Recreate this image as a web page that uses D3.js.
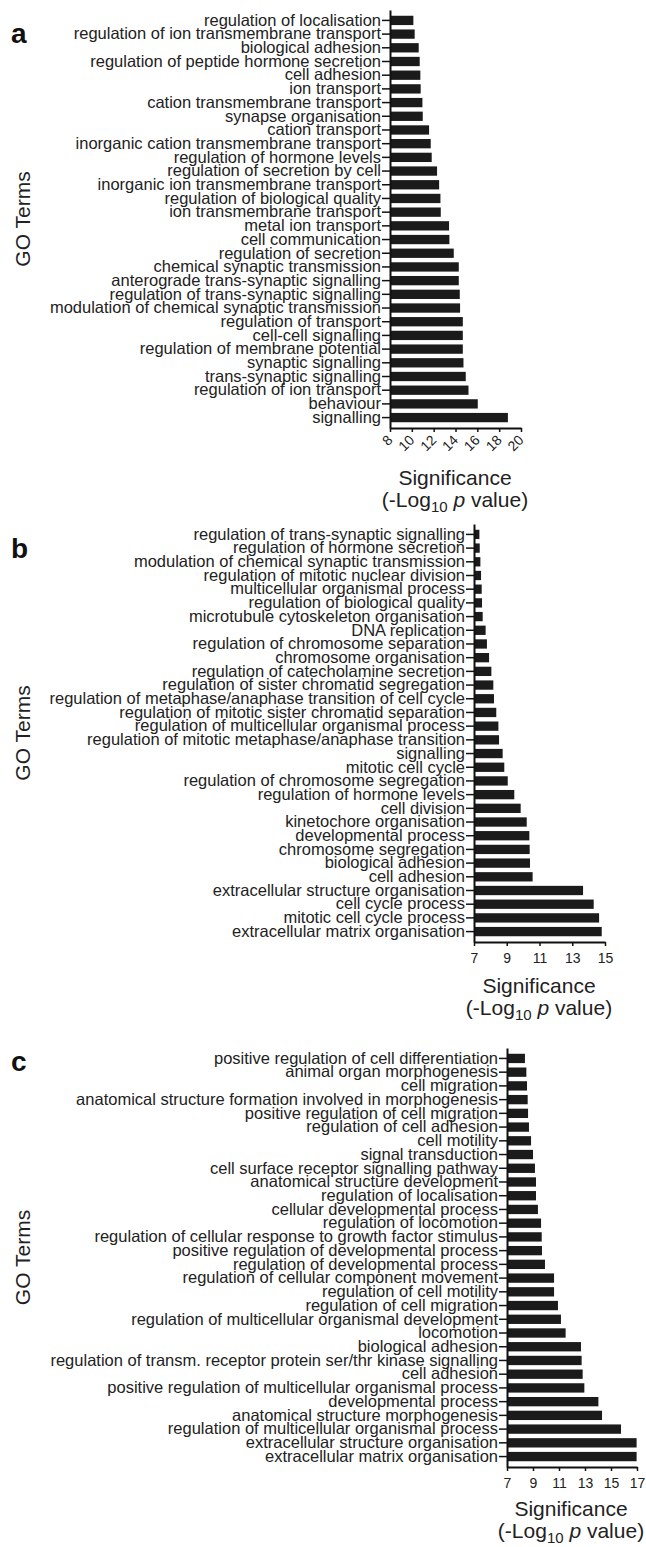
<!DOCTYPE html>
<html>
<head>
<meta charset="utf-8">
<script src="https://cdnjs.cloudflare.com/ajax/libs/d3/7.8.5/d3.min.js"></script>
<style>
  body { margin: 0; background: #fff; }
  svg { display: block; font-family: 'Liberation Sans', Arial, sans-serif; }
</style>
</head>
<body>
<svg width="646" height="1547"></svg>
<script>
// GO terms, top to bottom, with -log10 p values
const termsA = [
  'regulation of localisation', 'regulation of ion transmembrane transport', 'biological adhesion',
  'regulation of peptide hormone secretion', 'cell adhesion', 'ion transport',
  'cation transmembrane transport', 'synapse organisation', 'cation transport',
  'inorganic cation transmembrane transport', 'regulation of hormone levels', 'regulation of secretion by cell',
  'inorganic ion transmembrane transport', 'regulation of biological quality', 'ion transmembrane transport',
  'metal ion transport', 'cell communication', 'regulation of secretion',
  'chemical synaptic transmission', 'anterograde trans-synaptic signalling', 'regulation of trans-synaptic signalling',
  'modulation of chemical synaptic transmission', 'regulation of transport', 'cell-cell signalling',
  'regulation of membrane potential', 'synaptic signalling', 'trans-synaptic signalling',
  'regulation of ion transport', 'behaviour', 'signalling'
]
const valuesA = [
  10.14, 10.26, 10.63, 10.72, 10.78, 10.81, 10.97, 11.0, 11.58, 11.73,
  11.82, 12.31, 12.5, 12.62, 12.65, 13.41, 13.44, 13.84, 14.3, 14.3,
  14.39, 14.42, 14.67, 14.67, 14.67, 14.73, 14.94, 15.19, 16.04, 18.8
]
const ticksA = [8, 10, 12, 14, 16, 18, 20]

const termsB = [
  'regulation of trans-synaptic signalling', 'regulation of hormone secretion', 'modulation of chemical synaptic transmission',
  'regulation of mitotic nuclear division', 'multicellular organismal process', 'regulation of biological quality',
  'microtubule cytoskeleton organisation', 'DNA replication', 'regulation of chromosome separation',
  'chromosome organisation', 'regulation of catecholamine secretion', 'regulation of sister chromatid segregation',
  'regulation of metaphase/anaphase transition of cell cycle', 'regulation of mitotic sister chromatid separation', 'regulation of multicellular organismal process',
  'regulation of mitotic metaphase/anaphase transition', 'signalling', 'mitotic cell cycle',
  'regulation of chromosome segregation', 'regulation of hormone levels', 'cell division',
  'kinetochore organisation', 'developmental process', 'chromosome segregation',
  'biological adhesion', 'cell adhesion', 'extracellular structure organisation',
  'cell cycle process', 'mitotic cell cycle process', 'extracellular matrix organisation'
]
const valuesB = [
  7.33, 7.35, 7.39, 7.43, 7.47, 7.49, 7.53, 7.71, 7.79, 7.92,
  8.06, 8.18, 8.22, 8.36, 8.49, 8.53, 8.75, 8.85, 9.06, 9.46,
  9.85, 10.22, 10.38, 10.4, 10.42, 10.58, 13.66, 14.31, 14.64, 14.8
]
const ticksB = [7, 9, 11, 13, 15]

const termsC = [
  'positive regulation of cell differentiation', 'animal organ morphogenesis', 'cell migration',
  'anatomical structure formation involved in morphogenesis', 'positive regulation of cell migration', 'regulation of cell adhesion',
  'cell motility', 'signal transduction', 'cell surface receptor signalling pathway',
  'anatomical structure development', 'regulation of localisation', 'cellular developmental process',
  'regulation of locomotion', 'regulation of cellular response to growth factor stimulus', 'positive regulation of developmental process',
  'regulation of developmental process', 'regulation of cellular component movement', 'regulation of cell motility',
  'regulation of cell migration', 'regulation of multicellular organismal development', 'locomotion',
  'biological adhesion', 'regulation of transm. receptor protein ser/thr kinase signalling', 'cell adhesion',
  'positive regulation of multicellular organismal process', 'developmental process', 'anatomical structure morphogenesis',
  'regulation of multicellular organismal process', 'extracellular structure organisation', 'extracellular matrix organisation'
]
const valuesC = [
  8.38, 8.49, 8.54, 8.59, 8.62, 8.69, 8.85, 9.0, 9.15, 9.23,
  9.23, 9.38, 9.62, 9.67, 9.69, 9.92, 10.62, 10.62, 10.92, 11.15,
  11.51, 12.69, 12.74, 12.82, 12.95, 14.03, 14.31, 15.77, 16.97, 16.97
]
const ticksC = [7, 9, 11, 13, 15, 17]

// layout of the three stacked panels
const panels = [
  { letter: 'a', terms: termsA, values: valuesA, ticks: ticksA, rotate: true,
    x: [390, 521], y: [10, 428], letterY: 43, titleX: 455, titleY: 485 },
  { letter: 'b', terms: termsB, values: valuesB, ticks: ticksB, rotate: false,
    x: [474, 605], y: [524, 942], letterY: 558, titleX: 539, titleY: 993 },
  { letter: 'c', terms: termsC, values: valuesC, ticks: ticksC, rotate: false,
    x: [507, 637], y: [1048, 1467], letterY: 1071, titleX: 571, titleY: 1516 }
]

const svg = d3.select('svg')
panels.forEach(drawPanel)

function drawPanel (p) {
  const rows = p.terms.map((t, i) => ({ term: t, value: p.values[i] }))
  const ticks = p.ticks

  const xScale = d3.scaleLinear()
    .domain([ticks[0], ticks[ticks.length - 1]])
    .range(p.x)

  const yScale = d3.scaleBand()
    .domain(p.terms)
    .range(p.y)
    .paddingInner(0.32)
    .paddingOuter(0.42)

  const g = svg.append('g')

  g.selectAll('rect.bar')
    .data(rows)
    .join('rect')
      .attr('class', 'bar')
      .attr('x', xScale(ticks[0]))
      .attr('y', (d) => yScale(d.term))
      .attr('width', (d) => xScale(d.value) - xScale(ticks[0]))
      .attr('height', yScale.bandwidth())
      .attr('fill', '#1b1b1b')

  const yAxis = g.append('g')
    .attr('transform', `translate(${p.x[0]},0)`)
    .call(d3.axisLeft(yScale).tickSize(8).tickSizeOuter(0).tickPadding(1))
  styleAxis(yAxis)
  yAxis.selectAll('text')
    .attr('font-size', 16.5)
    .attr('fill', '#222')

  const xAxis = g.append('g')
    .attr('transform', `translate(0,${p.y[1]})`)
    .call(d3.axisBottom(xScale).tickValues(ticks).tickSize(4).tickSizeOuter(0)
      .tickPadding(p.rotate ? 3 : 7).tickFormat(d3.format('d')))
  styleAxis(xAxis)
  xAxis.selectAll('text')
    .attr('font-size', 14)
    .attr('fill', '#222')

  if (p.rotate) {
    xAxis.selectAll('.tick text')
      .attr('text-anchor', 'end')
      .attr('dy', null)
      .attr('y', 0)
      .attr('transform', 'translate(3,13) rotate(-45)')
  }

  // panel letter
  svg.append('text')
    .attr('x', 11)
    .attr('y', p.letterY)
    .attr('font-size', 28)
    .attr('font-weight', 'bold')
    .attr('fill', '#111')
    .text(p.letter)

  // y axis title
  svg.append('text')
    .attr('transform', `translate(30,${(p.y[0] + p.y[1]) / 2}) rotate(-90)`)
    .attr('text-anchor', 'middle')
    .attr('font-size', 21)
    .attr('fill', '#222')
    .text('GO Terms')

  // x axis title, two lines
  svg.append('text')
    .attr('x', p.titleX)
    .attr('y', p.titleY)
    .attr('text-anchor', 'middle')
    .attr('font-size', 21)
    .attr('fill', '#222')
    .text('Significance')

  const sub = svg.append('text')
    .attr('x', p.titleX)
    .attr('y', p.titleY + 22)
    .attr('text-anchor', 'middle')
    .attr('font-size', 21)
    .attr('fill', '#222')
  sub.append('tspan').text('(-Log')
  sub.append('tspan').attr('font-size', 15).attr('dy', 5).text('10')
  sub.append('tspan').attr('dy', -5).text('\u00a0')
  sub.append('tspan').attr('font-style', 'italic').text('p')
  sub.append('tspan').text(' value)')
}

function styleAxis (axis) {
  axis.select('.domain').attr('stroke', '#111').attr('stroke-width', 2)
  axis.selectAll('.tick line').attr('stroke', '#111').attr('stroke-width', 1.5)
  axis.attr('font-family', null)
}
</script>
</body>
</html>
